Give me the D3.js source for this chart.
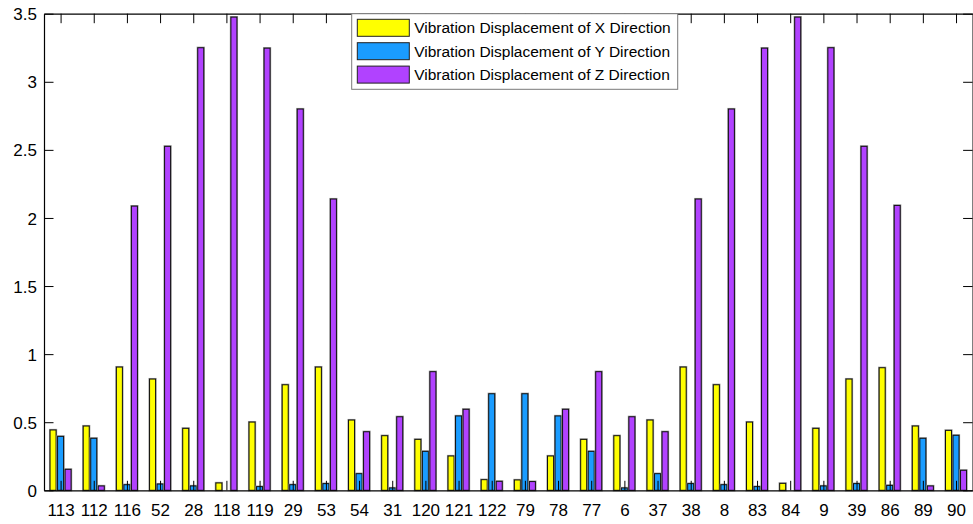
<!DOCTYPE html>
<html>
<head>
<meta charset="utf-8">
<script src="https://cdn.jsdelivr.net/npm/d3@7"></script>
<style>
  html, body { margin: 0; padding: 0; background: #fff; }
  svg { display: block; font-family: "Liberation Sans", Arial, Helvetica, sans-serif; }
</style>
</head>
<body>
<svg id="chart" width="973" height="524"></svg>
<script>
// Node labels along the x axis
const nodes = ["113","112","116","52","28","118","119","29","53","54","31","120","121","122",
               "79","78","77","6","37","38","8","83","84","9","39","86","89","90"];

// Vibration displacement per direction at each node
const dispX = [0.443,0.472,0.905,0.817,0.455,0.054,0.501,0.775,0.905,0.516,0.401,0.374,0.252,0.078,
               0.076,0.252,0.374,0.401,0.516,0.905,0.775,0.501,0.051,0.455,0.817,0.900,0.472,0.440];
const dispY = [0.396,0.382,0.041,0.046,0.032,0.000,0.027,0.041,0.049,0.122,0.017,0.286,0.546,0.709,
               0.709,0.546,0.286,0.017,0.122,0.049,0.041,0.027,0.000,0.032,0.049,0.036,0.382,0.404];
const dispZ = [0.154,0.032,2.087,2.526,3.250,3.475,3.247,2.800,2.139,0.430,0.540,0.871,0.595,0.066,
               0.064,0.595,0.871,0.540,0.430,2.139,2.800,3.247,3.475,3.250,2.526,2.092,0.032,0.147];

const seriesNames = ["Vibration Displacement of X Direction",
                     "Vibration Displacement of Y Direction",
                     "Vibration Displacement of Z Direction"];
const seriesColors = ["#ffff00", "#1a9cff", "#b142ff"];
const seriesValues = [dispX, dispY, dispZ];

const yTickValues = [0, 0.5, 1, 1.5, 2, 2.5, 3, 3.5];
const yTickLabels = ["0", "0.5", "1", "1.5", "2", "2.5", "3", "3.5"];

// Plot frame
const frame = { left: 44, right: 972.6, top: 13.7, bottom: 490.3 };

const svg = d3.select("#chart");

const x = d3.scaleLinear().domain([0.5, nodes.length + 0.5]).range([frame.left, frame.right]);
const step = x(2) - x(1);
const inner = d3.scaleBand().domain([0, 1, 2])
  .range([-0.34 * step, 0.34 * step]).paddingInner(0.2).paddingOuter(0.1);
const y = d3.scaleLinear().domain([0, 3.5]).range([frame.bottom, frame.top]);

// Bars
const groups = svg.append("g").selectAll("g")
  .data(nodes)
  .join("g")
  .attr("transform", (d, i) => `translate(${x(i + 1)},0)`);

seriesValues.forEach((vals, s) => {
  groups.append("rect")
    .attr("x", inner(s))
    .attr("y", (d, i) => y(vals[i]))
    .attr("width", inner.bandwidth())
    .attr("height", (d, i) => Math.max(0, y(0) - y(vals[i])))
    .attr("fill", seriesColors[s])
    .attr("stroke", "#9a9a9a")
    .attr("stroke-width", 2.2);
  groups.append("rect")
    .attr("x", inner(s))
    .attr("y", (d, i) => y(vals[i]))
    .attr("width", inner.bandwidth())
    .attr("height", (d, i) => Math.max(0, y(0) - y(vals[i])))
    .attr("fill", seriesColors[s])
    .attr("stroke", "#111")
    .attr("stroke-width", 1);
});

// Axes: ticks pointing inward on all four sides
const tickLen = 9.5;
const xBottom = d3.axisBottom(x)
  .tickValues(d3.range(1, nodes.length + 1))
  .tickFormat((d) => nodes[d - 1])
  .tickSizeInner(-tickLen).tickSizeOuter(0).tickPadding(14);
const gxb = svg.append("g").attr("transform", `translate(0,${frame.bottom})`).call(xBottom);

const xTop = d3.axisTop(x)
  .tickValues(d3.range(1, nodes.length + 1))
  .tickFormat("")
  .tickSizeInner(-tickLen).tickSizeOuter(0);
const gxt = svg.append("g").attr("transform", `translate(0,${frame.top})`).call(xTop);

const yLeft = d3.axisLeft(y)
  .tickValues(yTickValues)
  .tickFormat((d, i) => yTickLabels[i])
  .tickSizeInner(-tickLen).tickSizeOuter(0).tickPadding(7);
const gyl = svg.append("g").attr("transform", `translate(${frame.left},0)`).call(yLeft);

const yRight = d3.axisRight(y)
  .tickValues(yTickValues)
  .tickFormat("")
  .tickSizeInner(-tickLen).tickSizeOuter(0);
const gyr = svg.append("g").attr("transform", `translate(${frame.right},0)`).call(yRight);

[gxb, gxt, gyl, gyr].forEach(g => {
  g.selectAll(".domain").attr("stroke", "#000").attr("stroke-width", 1.2);
  g.selectAll(".tick line").attr("stroke", "#000").attr("stroke-width", 1);
  g.selectAll(".tick text").attr("fill", "#000")
    .attr("font-size", "17px")
    .attr("font-family", "'Liberation Sans', Arial, sans-serif");
});
gyl.selectAll(".tick text").attr("dy", "0.36em");

// Legend
const legend = svg.append("g").attr("transform", "translate(351.7,13.7)");
legend.append("rect")
  .attr("x", 0).attr("y", 0).attr("width", 326).attr("height", 75.6)
  .attr("fill", "#fff").attr("stroke", "#7a7a7a").attr("stroke-width", 1);
const rowH = 23.4;
seriesNames.forEach((name, s) => {
  const row = legend.append("g").attr("transform", `translate(0,${5.6 + s * rowH})`);
  row.append("rect")
    .attr("x", 5.6).attr("y", 0).attr("width", 52).attr("height", 17)
    .attr("fill", seriesColors[s]).attr("stroke", "#222").attr("stroke-width", 1);
  row.append("text")
    .attr("x", 62.5).attr("y", 8.5).attr("dy", "0.36em")
    .attr("font-size", "15.5px").attr("fill", "#000")
    .text(name);
});
</script>
</body>
</html>
